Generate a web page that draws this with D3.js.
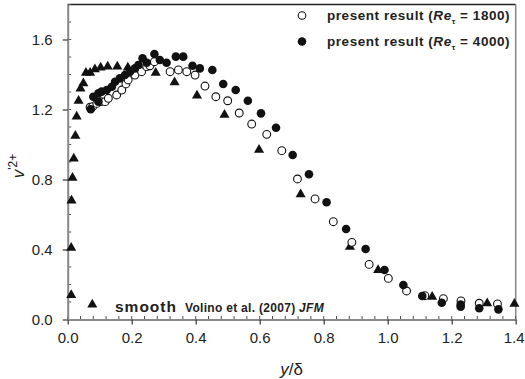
<!DOCTYPE html>
<html>
<head>
<meta charset="utf-8">
<script src="https://cdn.jsdelivr.net/npm/d3@7"></script>
<style>
  body { margin: 0; background: #fff; }
  svg text { font-family: "Liberation Sans", Arial, sans-serif; fill: #222; }
</style>
</head>
<body>
<svg id="chart" width="525" height="379"></svg>
<script>
// Volino et al. (2007) smooth wall, triangles
var smoothX = [0.011,0.011,0.012,0.015,0.019,0.024,0.028,0.034,0.040,0.049,0.057,0.070,0.085,0.103,0.125,0.155,0.188,0.275,0.334,0.404,0.490,0.598,0.728,0.882,0.970,1.139,1.311,1.396];
var smoothV = [0.14,0.41,0.68,0.81,0.92,1.05,1.16,1.25,1.32,1.35,1.41,1.41,1.43,1.44,1.445,1.445,1.44,1.41,1.355,1.28,1.17,0.97,0.715,0.415,0.283,0.13,0.093,0.089];

// present result Re_tau = 1800, open circles
var re1800X = [0.070,0.078,0.091,0.104,0.117,0.127,0.153,0.169,0.182,0.189,0.210,0.231,0.247,0.257,0.271,0.320,0.346,0.372,0.398,0.429,0.463,0.500,0.536,0.575,0.622,0.669,0.718,0.773,0.830,0.888,0.942,1.002,1.059,1.116,1.174,1.229,1.286,1.343];
var re1800V = [1.213,1.216,1.235,1.245,1.245,1.264,1.283,1.311,1.346,1.369,1.397,1.416,1.445,1.45,1.473,1.416,1.426,1.416,1.397,1.334,1.273,1.25,1.18,1.117,1.058,0.965,0.803,0.689,0.559,0.441,0.315,0.235,0.163,0.136,0.119,0.106,0.093,0.089];

// present result Re_tau = 4000, filled circles
var re4000X = [0.072,0.080,0.096,0.096,0.106,0.122,0.138,0.148,0.163,0.179,0.195,0.210,0.221,0.234,0.247,0.271,0.288,0.309,0.338,0.361,0.390,0.413,0.452,0.486,0.525,0.563,0.604,0.651,0.703,0.754,0.809,0.870,0.931,0.990,1.049,1.108,1.169,1.228,1.228,1.286,1.346];
var re4000V = [1.201,1.273,1.245,1.293,1.302,1.311,1.33,1.359,1.378,1.397,1.416,1.435,1.454,1.493,1.467,1.517,1.483,1.467,1.502,1.502,1.45,1.435,1.426,1.346,1.311,1.25,1.178,1.096,0.94,0.83,0.67,0.517,0.403,0.283,0.197,0.134,0.096,0.085,0.073,0.064,0.058];

var xTicks = [0.0,0.2,0.4,0.6,0.8,1.0,1.2,1.4];
var yTicks = [0.0,0.4,0.8,1.2,1.6];

var svg = d3.select("#chart");
var pLeft = 67.7, pRight = 515.7, pTop = 4.5, pBottom = 319.5;

var x = d3.scaleLinear().domain([0, 1.4]).range([pLeft, pRight]);
var y = d3.scaleLinear().domain([0, 1.8]).range([pBottom, pTop]);

// frame: top dark, right gray
svg.append("line").attr("x1", pLeft).attr("x2", pRight).attr("y1", pTop).attr("y2", pTop)
  .attr("stroke", "#222").attr("stroke-width", 1.5);
svg.append("line").attr("x1", pRight).attr("x2", pRight).attr("y1", pTop).attr("y2", pBottom)
  .attr("stroke", "#888").attr("stroke-width", 1.5);

// minor ticks (inside)
var xMinor = d3.range(0, 1.4001, 0.04);
svg.append("g").selectAll("line").data(xMinor).join("line")
  .attr("x1", d => x(d)).attr("x2", d => x(d))
  .attr("y1", pBottom).attr("y2", pBottom - 3.5)
  .attr("stroke", "#555").attr("stroke-width", 1);
var yMinor = d3.range(0, 1.8001, 0.1);
svg.append("g").selectAll("line").data(yMinor).join("line")
  .attr("x1", pLeft).attr("x2", pLeft + 3.5)
  .attr("y1", d => y(d)).attr("y2", d => y(d))
  .attr("stroke", "#555").attr("stroke-width", 1);

// axes
var xAxis = svg.append("g").attr("transform", "translate(0," + pBottom + ")")
  .call(d3.axisBottom(x).tickValues(xTicks).tickFormat(d3.format(".1f")).tickSizeInner(5).tickSizeOuter(0).tickPadding(8));
var yAxis = svg.append("g").attr("transform", "translate(" + pLeft + ",0)")
  .call(d3.axisLeft(y).tickValues(yTicks).tickFormat(d3.format(".1f")).tickSizeInner(5).tickSizeOuter(0).tickPadding(10));

[xAxis, yAxis].forEach(function(g) {
  g.select(".domain").attr("stroke", "#888").attr("stroke-width", 2);
  g.selectAll(".tick line").attr("stroke", "#333").attr("stroke-width", 1.2);
  g.selectAll(".tick text").attr("font-size", 15).attr("fill", "#222")
    .attr("font-family", "Liberation Sans, Arial, sans-serif");
});
yAxis.selectAll(".tick text").attr("dy", "0.36em");
// last x label sits at the window edge, keep it inside
xAxis.selectAll(".tick text").filter(d => d === 1.4).attr("dx", -2);

// markers
var tri = d3.symbol().type(d3.symbolTriangle).size(44);

svg.append("g").selectAll("path").data(smoothX).join("path")
  .attr("d", tri)
  .attr("transform", (d, i) => "translate(" + x(d) + "," + y(smoothV[i]) + ")")
  .attr("fill", "#111");

svg.append("g").selectAll("circle").data(re1800X).join("circle")
  .attr("cx", d => x(d)).attr("cy", (d, i) => y(re1800V[i])).attr("r", 3.9)
  .attr("fill", "#fff").attr("stroke", "#111").attr("stroke-width", 1.1);

svg.append("g").selectAll("circle").data(re4000X).join("circle")
  .attr("cx", d => x(d)).attr("cy", (d, i) => y(re4000V[i])).attr("r", 4.3)
  .attr("fill", "#111");

// legend top right
var legend = [
  {mark: "open", re: "1800", ly: 15.5},
  {mark: "fill", re: "4000", ly: 41.5}
];
legend.forEach(function(l) {
  var c = svg.append("circle").attr("cx", 302).attr("cy", l.ly).attr("r", l.mark == "open" ? 3.8 : 4.3);
  if (l.mark == "open") c.attr("fill", "#fff").attr("stroke", "#111").attr("stroke-width", 1.1);
  else c.attr("fill", "#111");
  var t = svg.append("text").attr("x", 327).attr("y", l.ly + 4.5)
    .attr("font-size", 13.5).attr("font-weight", "bold").attr("letter-spacing", 0.55);
  t.append("tspan").text("present result (");
  t.append("tspan").attr("font-style", "italic").text("Re");
  t.append("tspan").attr("font-size", 8).attr("dy", 4).text("τ");
  t.append("tspan").attr("dy", -4).text(" = " + l.re + ")");
});

// smooth legend at bottom
svg.append("path").attr("d", tri).attr("transform", "translate(92.3,304.5)").attr("fill", "#111");
svg.append("text").attr("x", 115).attr("y", 311.5).attr("font-size", 15.5).attr("font-weight", "bold")
  .attr("letter-spacing", 1).text("smooth");
var vt = svg.append("text").attr("x", 185).attr("y", 312).attr("font-size", 12).attr("font-weight", "bold")
  .attr("letter-spacing", 0.3);
vt.append("tspan").text("Volino et al. (2007) ");
vt.append("tspan").attr("font-style", "italic").text("JFM");

// axis titles
var xt = svg.append("text").attr("x", x(0.7)).attr("y", 375).attr("text-anchor", "middle").attr("font-size", 17);
xt.append("tspan").attr("font-style", "italic").text("y");
xt.append("tspan").text("/δ");

var yt = svg.append("text").attr("transform", "translate(24,166) rotate(-90)")
  .attr("text-anchor", "middle").attr("font-size", 17);
yt.append("tspan").attr("font-style", "italic").text("v");
yt.append("tspan").attr("font-size", 12).attr("dy", -7).text("'2+");
</script>
</body>
</html>
